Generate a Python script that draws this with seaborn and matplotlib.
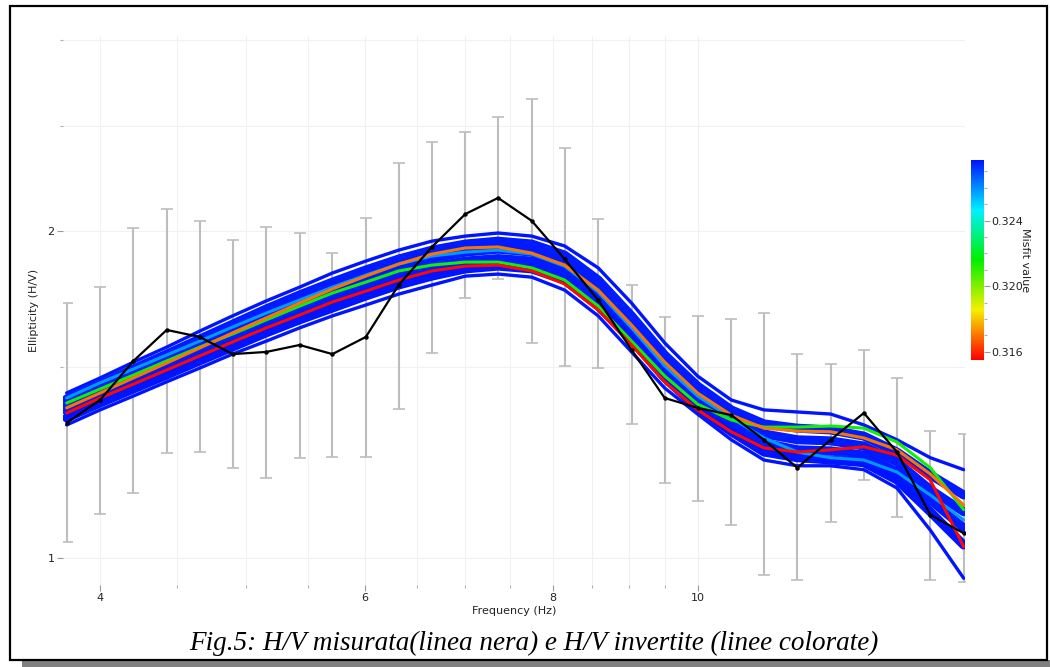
import numpy as np
import pandas as pd
import matplotlib
matplotlib.use("Agg")
import matplotlib.pyplot as plt
import seaborn as sns
from matplotlib.colors import LinearSegmentedColormap, Normalize
from matplotlib.cm import ScalarMappable
from matplotlib.ticker import FixedLocator, NullFormatter, MultipleLocator
from matplotlib.patches import Rectangle

# ---------------- data ----------------
freq = [3.80, 4.00, 4.21, 4.43, 4.66, 4.90, 5.16, 5.43, 5.71, 6.01, 6.32, 6.65, 7.00,
        7.36, 7.75, 8.15, 8.58, 9.03, 9.50, 9.99, 10.52, 11.06, 11.64, 12.25, 12.89,
        13.56, 14.27, 15.02]

hv_measured = [1.332, 1.398, 1.519, 1.622, 1.598, 1.541, 1.548, 1.571, 1.541, 1.598,
               1.784, 1.934, 2.074, 2.146, 2.044, 1.885, 1.728, 1.555, 1.404, 1.375,
               1.354, 1.285, 1.211, 1.285, 1.360, 1.252, 1.096, 1.054]
hv_upper = [1.717, 1.777, 2.013, 2.096, 2.043, 1.963, 2.018, 1.992, 1.909, 2.056,
            2.311, 2.416, 2.468, 2.547, 2.647, 2.385, 2.051, 1.784, 1.667, 1.671,
            1.660, 1.681, 1.541, 1.509, 1.554, 1.464, 1.309, 1.301]
hv_lower = [1.034, 1.098, 1.148, 1.249, 1.252, 1.210, 1.185, 1.236, 1.239, 1.239,
            1.371, 1.544, 1.735, 1.807, 1.578, 1.502, 1.496, 1.329, 1.172, 1.128,
            1.073, 0.965, 0.954, 1.079, 1.180, 1.091, 0.954, 0.950]

# inverted models (H/V curves) and their misfit values
model_b1 = [1.419, 1.465, 1.515, 1.564, 1.618, 1.671, 1.725, 1.776, 1.830, 1.877, 1.921,
            1.958, 1.979, 1.992, 1.979, 1.938, 1.850, 1.717, 1.578, 1.471, 1.398, 1.369,
            1.363, 1.357, 1.326, 1.285, 1.237, 1.206]
model_b2 = [1.401, 1.446, 1.493, 1.541, 1.591, 1.642, 1.696, 1.747, 1.795, 1.842, 1.885,
            1.921, 1.946, 1.958, 1.946, 1.901, 1.803, 1.671, 1.538, 1.440, 1.369, 1.329,
            1.317, 1.312, 1.295, 1.252, 1.193, 1.143]
model_b3 = [1.383, 1.428, 1.471, 1.519, 1.568, 1.618, 1.667, 1.717, 1.765, 1.811, 1.853,
            1.887, 1.913, 1.925, 1.913, 1.869, 1.773, 1.646, 1.515, 1.416, 1.346, 1.301,
            1.285, 1.282, 1.268, 1.226, 1.156, 1.103]
model_b4 = [1.366, 1.410, 1.453, 1.496, 1.545, 1.591, 1.639, 1.685, 1.732, 1.776, 1.818,
            1.853, 1.877, 1.887, 1.877, 1.834, 1.739, 1.618, 1.490, 1.395, 1.326, 1.276,
            1.258, 1.255, 1.244, 1.200, 1.131, 1.066]
model_b5 = [1.346, 1.389, 1.431, 1.474, 1.519, 1.564, 1.612, 1.657, 1.699, 1.743, 1.784,
            1.818, 1.846, 1.857, 1.846, 1.803, 1.706, 1.588, 1.465, 1.375, 1.307, 1.252,
            1.237, 1.231, 1.224, 1.180, 1.103, 1.028]
model_b6 = [1.326, 1.369, 1.410, 1.453, 1.496, 1.541, 1.584, 1.629, 1.671, 1.710, 1.750,
            1.784, 1.818, 1.826, 1.814, 1.765, 1.671, 1.548, 1.434, 1.357, 1.285, 1.231,
            1.216, 1.216, 1.206, 1.160, 1.061, 0.958]
model_lb = [1.404, 1.450, 1.493, 1.538, 1.584, 1.632, 1.681, 1.728, 1.776, 1.822, 1.865,
            1.897, 1.913, 1.921, 1.905, 1.857, 1.758, 1.629, 1.503, 1.410, 1.346, 1.290,
            1.252, 1.237, 1.231, 1.200, 1.143, 1.084]
model_gr = [1.389, 1.431, 1.474, 1.519, 1.564, 1.608, 1.657, 1.706, 1.754, 1.795, 1.838,
            1.861, 1.873, 1.873, 1.850, 1.803, 1.706, 1.584, 1.471, 1.386, 1.340, 1.320,
            1.320, 1.323, 1.317, 1.279, 1.211, 1.108]
model_or = [1.375, 1.419, 1.465, 1.512, 1.561, 1.612, 1.664, 1.717, 1.769, 1.818, 1.865,
            1.905, 1.930, 1.934, 1.909, 1.861, 1.765, 1.639, 1.515, 1.419, 1.354, 1.317,
            1.309, 1.307, 1.290, 1.258, 1.195, 1.119]
model_rd = [1.360, 1.404, 1.446, 1.490, 1.535, 1.581, 1.629, 1.674, 1.721, 1.761, 1.803,
            1.838, 1.857, 1.861, 1.838, 1.788, 1.692, 1.571, 1.453, 1.369, 1.307, 1.263,
            1.252, 1.258, 1.266, 1.244, 1.180, 1.024]

models = [model_b1, model_b6, model_b2, model_b3, model_b4, model_b5,
          model_lb, model_gr, model_or, model_rd]
misfits = [0.3277, 0.3277, 0.3276, 0.3276, 0.3276, 0.3277,
           0.3258, 0.3214, 0.3170, 0.3156]
widths = [2.4, 2.4, 6.5, 6.5, 6.5, 6.5, 2.2, 2.2, 2.2, 2.2]

x_major = [4, 6, 8, 10]
x_minor = [4.5, 5, 5.5, 6.5, 7, 7.5, 8.5, 9, 9.5]
y_major = [1, 2]
y_minor = [1.5, 2.5, 3]
cbar_ticks = [0.316, 0.320, 0.324]
caption = "Fig.5: H/V misurata(linea nera) e H/V invertite (linee colorate)"

# ---------------- style ----------------
sns.set_style("white")
plt.rcParams["font.family"] = ["DejaVu Sans"]

W, H = 1050, 667
fig = plt.figure(figsize=(W / 100, H / 100), dpi=100)
fig.patch.set_facecolor("white")

ax = fig.add_axes([63 / W, 1 - 585 / H, (965 - 63) / W, (585 - 36) / H])
ax.set_xscale("log")
ax.set_yscale("log")
ax.set_xlim(3.779, 15.05)
ax.set_ylim(0.9444, 3.025)

cmap = LinearSegmentedColormap.from_list(
    "misfit", [(0.0, "#ff0000"), (0.25, "#f5f000"), (0.5, "#00f000"),
               (0.75, "#00f0ff"), (1.0, "#0014ff")])
norm = Normalize(vmin=0.3155, vmax=0.3277)

# error bars
ax.errorbar(freq, hv_measured,
            yerr=[np.array(hv_measured) - np.array(hv_lower),
                  np.array(hv_upper) - np.array(hv_measured)],
            fmt="none", ecolor="#bdbdbd", elinewidth=1.5, capsize=4, capthick=1.2,
            zorder=2)

# model curves (worst first, best last)
for i, (m, mf, lw) in enumerate(zip(models, misfits, widths)):
    df = pd.DataFrame({"freq": freq, "hv": m})
    sns.lineplot(data=df, x="freq", y="hv", color=cmap(norm(mf)), linewidth=lw,
                 ax=ax, sort=False, legend=False, zorder=3 + i * 0.01)

# measured curve
dfm = pd.DataFrame({"freq": freq, "hv": hv_measured})
sns.lineplot(data=dfm, x="freq", y="hv", color="black", linewidth=1.6, marker="o",
             markersize=3.2, markeredgewidth=0, ax=ax, sort=False, legend=False, zorder=5)

# axes cosmetics
for s in ax.spines.values():
    s.set_visible(False)
ax.xaxis.set_major_locator(FixedLocator(x_major))
ax.xaxis.set_minor_locator(FixedLocator(x_minor))
ax.set_xticklabels([str(v) for v in x_major])
ax.xaxis.set_minor_formatter(NullFormatter())
ax.yaxis.set_major_locator(FixedLocator(y_major))
ax.yaxis.set_minor_locator(FixedLocator(y_minor))
ax.set_yticklabels([str(v) for v in y_major])
ax.yaxis.set_minor_formatter(NullFormatter())
ax.tick_params(axis="both", which="major", length=4, width=0.8, color="#9a9a9a",
               labelsize=8, labelcolor="#222222", direction="out", pad=2)
ax.tick_params(axis="both", which="minor", length=2.5, width=0.8, color="#b0b0b0",
               direction="out")
ax.tick_params(axis="x", which="both", bottom=True)
ax.tick_params(axis="y", which="both", left=True)
ax.grid(True, which="both", color="#f1f1f1", linewidth=0.8)
ax.set_axisbelow(True)
ax.set_xlabel("Frequency (Hz)", fontsize=8, color="#222222", labelpad=2)
ax.set_ylabel("Ellipticity (H/V)", fontsize=8, color="#222222", labelpad=6)

# colorbar
cax = fig.add_axes([971 / W, 1 - 360 / H, 13 / W, 200 / H])
sm = ScalarMappable(norm=norm, cmap=cmap)
cb = fig.colorbar(sm, cax=cax, ticks=cbar_ticks)
cb.outline.set_visible(False)
cb.ax.set_yticklabels([f"{t:.3f}" for t in cbar_ticks])
cb.ax.yaxis.set_minor_locator(MultipleLocator(0.001))
cb.ax.tick_params(which="major", length=4, width=0.8, color="#9a9a9a", labelsize=8,
                  labelcolor="#222222", pad=1)
cb.ax.tick_params(which="minor", length=2.5, width=0.8, color="#b0b0b0")
cb.set_label("Misfit value", rotation=270, fontsize=8, color="#222222", labelpad=5)

# frame and shadow
fig.patches.append(Rectangle((22 / W, 0), (W - 22) / W, 7 / H, transform=fig.transFigure,
                             facecolor="#808080", edgecolor="none", zorder=0))
fig.patches.append(Rectangle((10 / W, 1 - 660 / H), (1047 - 10) / W, (660 - 6) / H,
                             transform=fig.transFigure, fill=False, edgecolor="black",
                             linewidth=1.6, zorder=1))

fig.text(534 / W, 1 - 643 / H, caption, ha="center", va="center",
         family="Liberation Serif", style="italic", fontsize=19.5, color="black")

fig.savefig("out.png", dpi=100)
